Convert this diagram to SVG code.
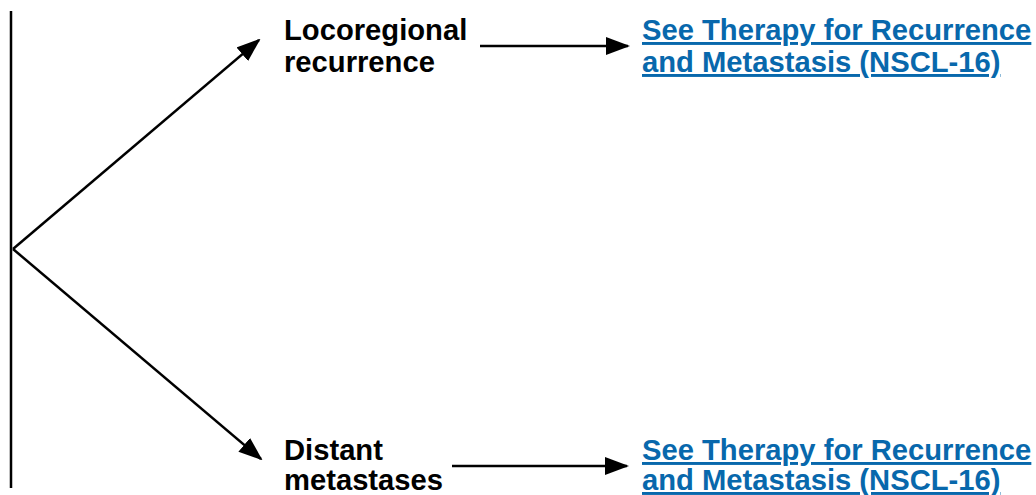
<svg xmlns="http://www.w3.org/2000/svg" width="1036" height="495" viewBox="0 0 1036 495">
<style>
.lbl{font-family:"Liberation Sans",Arial,sans-serif;font-weight:bold;font-size:29.2px;fill:#000}
.lnk{font-family:"Liberation Sans",Arial,sans-serif;font-weight:bold;font-size:29.2px;fill:#0868ac;text-decoration:underline}
.ln{stroke:#000;stroke-width:2.5;fill:none}
</style>
<defs>
<marker id="ah" markerUnits="userSpaceOnUse" markerWidth="24" markerHeight="18" refX="22" refY="9" orient="auto">
<path d="M0,0 L24,9 L0,18 Z" fill="#000"/>
</marker>
</defs>
<rect width="1036" height="495" fill="#fff"/>
<g id="connectors">
<line class="ln" x1="11" y1="11" x2="11" y2="488"/>
<line class="ln" x1="13" y1="249" x2="259" y2="40" marker-end="url(#ah)"/>
<line class="ln" x1="13" y1="249" x2="261" y2="459" marker-end="url(#ah)"/>
<line class="ln" x1="480" y1="46" x2="628" y2="46" marker-end="url(#ah)"/>
<line class="ln" x1="452" y1="466" x2="627" y2="466" marker-end="url(#ah)"/>
</g>
<g id="locoregional">
<text class="lbl" x="284" y="40">Locoregional</text>
<text class="lbl" x="284" y="72">recurrence</text>
</g>
<g id="distant">
<text class="lbl" x="284" y="460">Distant</text>
<text class="lbl" x="284" y="490">metastases</text>
</g>
<g id="link-top">
<text class="lnk" x="642" y="40">See Therapy for Recurrence</text>
<text class="lnk" x="642" y="72">and Metastasis (NSCL-16)</text>
</g>
<g id="link-bottom">
<text class="lnk" x="642" y="460">See Therapy for Recurrence</text>
<text class="lnk" x="642" y="490">and Metastasis (NSCL-16)</text>
</g>
</svg>
